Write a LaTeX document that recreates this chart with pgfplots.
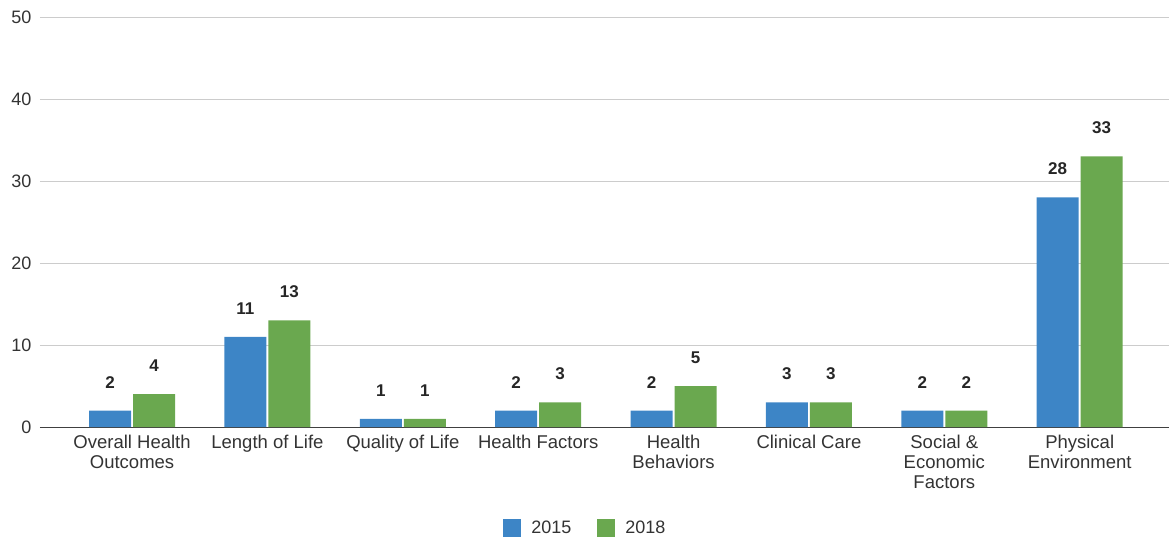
\documentclass[border=0pt]{standalone}
\usepackage{pgfplots}
\pgfplotsset{compat=1.18}
\usepackage{fontspec}
\setmainfont{Liberation Sans}
\definecolor{cblue}{HTML}{3D85C6}
\definecolor{cgreen}{HTML}{6AA84F}
\definecolor{tgray}{HTML}{333333}
\begin{document}
\begin{tikzpicture}[x=1pt,y=1pt]
\useasboundingbox (0,0) rectangle (1169,542);
\begin{axis}[
  at={(40pt,115pt)}, anchor=south west,
  scale only axis, width=1129pt, height=410pt,
  xmin=-0.68, xmax=7.66, ymin=0, ymax=50,
  ytick={0,10,20,30,40,50},
  xtick={0,1,2,3,4,5,6,7},
  xticklabels={{Overall Health\\Outcomes},{Length of Life},{Quality of Life},{Health Factors},{Health\\Behaviors},{Clinical Care},{Social \&\\Economic\\Factors},{Physical\\Environment}},
  xticklabel style={align=center, font=\fontsize{18.5}{20}\selectfont, text=tgray, yshift=-5pt},
  yticklabel style={font=\fontsize{18}{19}\selectfont, text=tgray, xshift=-5pt},
  /pgf/number format/assume math mode=true,
  major tick length=0pt,
  ymajorgrids, grid style={draw=black!20, line width=1pt},
  axis y line*=left, y axis line style={draw=none},
  axis x line*=bottom,
  x axis line style={draw=black!75, line width=1pt, -},
  ybar, bar width=42pt,
  nodes near coords,
  every node near coord/.append style={font=\fontsize{17}{18}\selectfont\bfseries, text=black!85, yshift=19pt},
  legend style={at={(0.483,-0.246)}, anchor=center, draw=none, legend columns=2, font=\fontsize{18}{19}\selectfont, text=tgray, /tikz/every even column/.append style={column sep=24pt}},
  legend image code/.code={\fill[#1] (0pt,-9pt) rectangle (18pt,9pt);},
  legend style={/tikz/every odd column/.append style={column sep=8pt}},
]
\addplot[fill=cblue, draw=none, bar shift=-22pt] coordinates {(0,2) (1,11) (2,1) (3,2) (4,2) (5,3) (6,2) (7,28)};
\addplot[fill=cgreen, draw=none, bar shift=22pt] coordinates {(0,4) (1,13) (2,1) (3,3) (4,5) (5,3) (6,2) (7,33)};
\legend{2015,2018}
\end{axis}
\end{tikzpicture}
\end{document}
